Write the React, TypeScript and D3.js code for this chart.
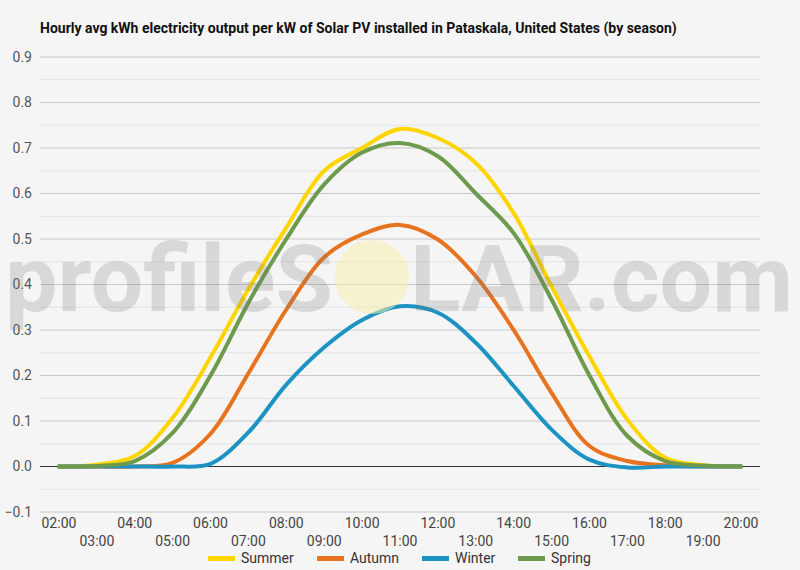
import React, { useEffect } from "react";
import * as d3 from "d3";

const hours = [2, 3, 4, 5, 6, 7, 8, 9, 10, 11, 12, 13, 14, 15, 16, 17, 18, 19, 20];
const hourLabels = hours.map((h) => `${String(h).padStart(2, "0")}:00`);
const summer = [0, 0.004, 0.023, 0.107, 0.24, 0.39, 0.525, 0.65, 0.7, 0.742, 0.722, 0.667, 0.557, 0.396, 0.242, 0.103, 0.019, 0.003, 0];
const autumn = [0, 0, 0, 0.008, 0.072, 0.205, 0.345, 0.46, 0.51, 0.531, 0.499, 0.418, 0.3, 0.162, 0.045, 0.012, 0.003, 0, 0];
const winter = [0, 0, 0, 0, 0.006, 0.075, 0.18, 0.262, 0.322, 0.352, 0.338, 0.272, 0.177, 0.081, 0.015, -0.002, 0, 0, 0];
const spring = [0, 0.001, 0.012, 0.074, 0.2, 0.36, 0.5, 0.62, 0.69, 0.711, 0.682, 0.6, 0.513, 0.367, 0.2, 0.067, 0.012, 0.002, 0];
const yTicks = [-0.1, 0, 0.1, 0.2, 0.3, 0.4, 0.5, 0.6, 0.7, 0.8, 0.9];
const seriesNames = ["Summer", "Autumn", "Winter", "Spring"];
const seriesColors = ["#ffd500", "#e8731e", "#1d93c4", "#6d9a4c"];
const seriesData = [summer, autumn, winter, spring];
const title = "Hourly avg kWh electricity output per kW of Solar PV installed in Pataskala, United States (by season)";

const W = 800;
const H = 570;
const left = 40;
const right = 760;

export default function App() {
  useEffect(() => {
    document.body.style.margin = "0";
    document.body.style.background = "#f5f5f5";
  }, []);

  const x = d3.scalePoint<number>().domain(hours).range([left, right]).padding(0.5);
  const y = d3.scaleLinear().domain([-0.1, 0.9]).range([512, 57]);
  const line = d3
    .line<number>()
    .x((_, i) => x(hours[i]) as number)
    .y((v) => y(v))
    .curve(d3.curveCatmullRom.alpha(0.5));

  const minorTicks = yTicks.slice(0, -1).map((t) => t + 0.05);
  const font = "Roboto, 'Noto Sans', sans-serif";
  const legendX = [208, 317, 422, 518];

  return (
    <svg width={W} height={H} style={{ display: "block", background: "#f5f5f5" }} fontFamily={font}>
      <rect x={0} y={0} width={W} height={H} fill="#f5f5f5" />
      <text x={40} y={33} fontSize={14} fontWeight="bold" fill="#111">
        {title}
      </text>
      {minorTicks.map((t) => (
        <line key={"m" + t} x1={left} x2={right} y1={y(t)} y2={y(t)} stroke="#e3e3e3" strokeWidth={1} />
      ))}
      {yTicks.map((t) => (
        <g key={"t" + t}>
          <line
            x1={left}
            x2={right}
            y1={y(t)}
            y2={y(t)}
            stroke={Math.abs(t) < 1e-9 ? "#333" : "#c8c8c8"}
            strokeWidth={1}
          />
          <text x={32} y={y(t)} dy="0.35em" textAnchor="end" fontSize={14} fill="#555">
            {d3.format(".1f")(t)}
          </text>
        </g>
      ))}
      {seriesData.map((d, i) => (
        <path
          key={seriesNames[i]}
          d={line(d) || ""}
          fill="none"
          stroke={seriesColors[i]}
          strokeWidth={4}
          strokeLinecap="round"
          strokeLinejoin="round"
        />
      ))}
      <g>
        <circle cx={372} cy={277} r={37} fill="#f6efb0" opacity={0.55} />
        <text x={5} y={311} fontSize={92} fontWeight={700} fill="#777" opacity={0.22} textLength={328} lengthAdjust="spacingAndGlyphs">
          profileS
        </text>
        <text x={410} y={311} fontSize={92} fontWeight={700} fill="#777" opacity={0.22} textLength={383} lengthAdjust="spacingAndGlyphs">
          LAR.com
        </text>
      </g>
      {hours.map((h, i) => (
        <text
          key={"x" + h}
          x={x(h) as number}
          y={i % 2 === 0 ? 528 : 546}
          textAnchor="middle"
          fontSize={14}
          fill="#444"
        >
          {hourLabels[i]}
        </text>
      ))}
      {seriesNames.map((n, i) => (
        <g key={"l" + n}>
          <rect x={legendX[i]} y={556} width={27} height={5} fill={seriesColors[i]} />
          <text x={legendX[i] + 33} y={563} fontSize={14} fill="#333">
            {n}
          </text>
        </g>
      ))}
    </svg>
  );
}
